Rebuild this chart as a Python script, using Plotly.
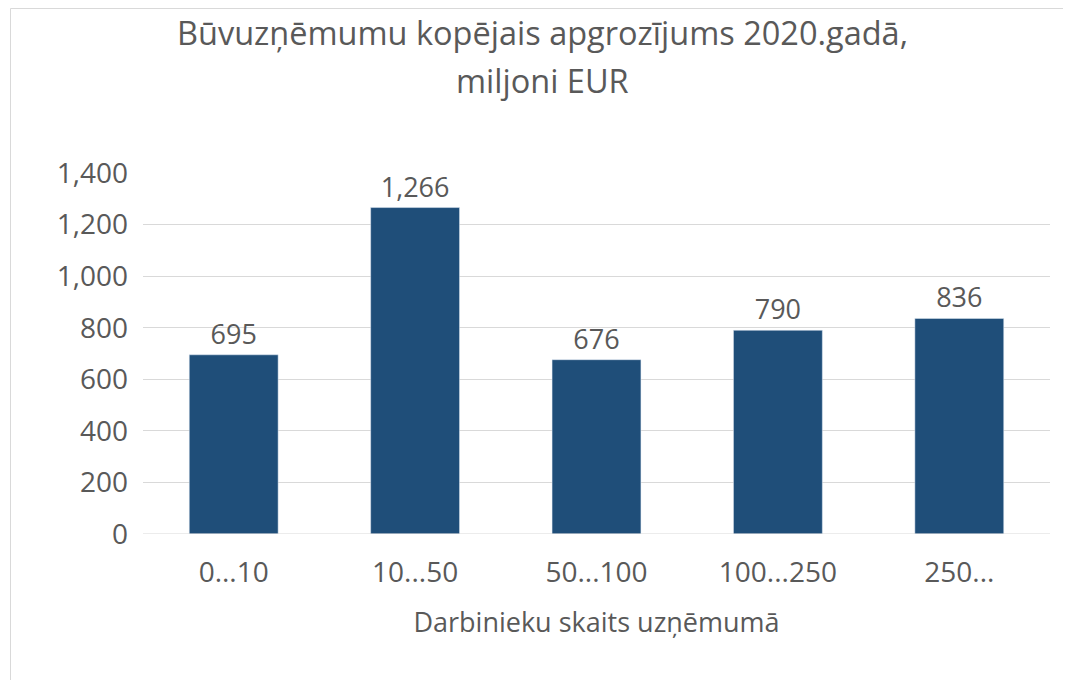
import plotly.graph_objects as go

categories = ["0...10", "10...50", "50...100", "100...250", "250..."]
values = [695, 1266, 676, 790, 836]
value_labels = ["695", "1,266", "676", "790", "836"]
y_ticks = [0, 200, 400, 600, 800, 1000, 1200, 1400]
y_tick_labels = ["0", "200", "400", "600", "800", "1,000", "1,200", "1,400"]
title_line1 = "Būvuzņēmumu kopējais apgrozījums 2020.gadā,"
title_line2 = "miljoni EUR"
x_title = "Darbinieku skaits uzņēmumā"

FONT = "Open Sans"
TXT = "#595959"
GRID = "#D9D9D9"

fig = go.Figure(go.Bar(
    x=categories, y=values, text=value_labels, textposition="outside",
    textfont=dict(family=FONT, size=27, color=TXT),
    marker=dict(color="#1F4E79"), width=0.49, cliponaxis=False,
))

W, H = 1071, 680
L, R, T, B = 135, 29, 165, 154
pw = W - L - R
ph = H - T - B


def py(px_from_top):
    return (H - px_from_top - B) / ph


def px(px_from_left):
    return (px_from_left - L) / pw


fig.update_layout(
    width=W, height=H,
    margin=dict(l=L, r=R, t=T, b=B),
    paper_bgcolor="white", plot_bgcolor="white",
    showlegend=False,
    font=dict(family=FONT, color=TXT),
)
fig.add_annotation(text=title_line1, xref="paper", yref="paper",
                   x=px(534), y=py(25), xanchor="center", yanchor="middle",
                   showarrow=False, font=dict(family=FONT, size=32.5, color=TXT))
fig.add_annotation(text=title_line2, xref="paper", yref="paper",
                   x=px(534), y=py(72), xanchor="center", yanchor="middle",
                   showarrow=False, font=dict(family=FONT, size=32.5, color=TXT))
fig.update_yaxes(range=[0, 1400], tickvals=y_ticks, ticktext=y_tick_labels,
                 showgrid=True, gridcolor=GRID, gridwidth=1,
                 zeroline=False, showline=False, ticks="",
                 tickfont=dict(family=FONT, size=28, color=TXT),
                 ticklabelstandoff=14)
fig.update_xaxes(showgrid=False, showline=False, ticks="",
                 tickfont=dict(family=FONT, size=28, color=TXT),
                 ticklabelstandoff=19,
                 title=dict(text=x_title,
                            font=dict(family=FONT, size=27, color=TXT),
                            standoff=24))
fig.add_hline(y=0, line=dict(color=GRID, width=1))
fig.add_shape(type="rect", xref="paper", yref="paper",
              x0=px(2.5), x1=px(1080),
              y0=py(700), y1=py(0.5),
              line=dict(color=GRID, width=1), fillcolor="rgba(0,0,0,0)",
              layer="below")
fig.write_html("out.html")
